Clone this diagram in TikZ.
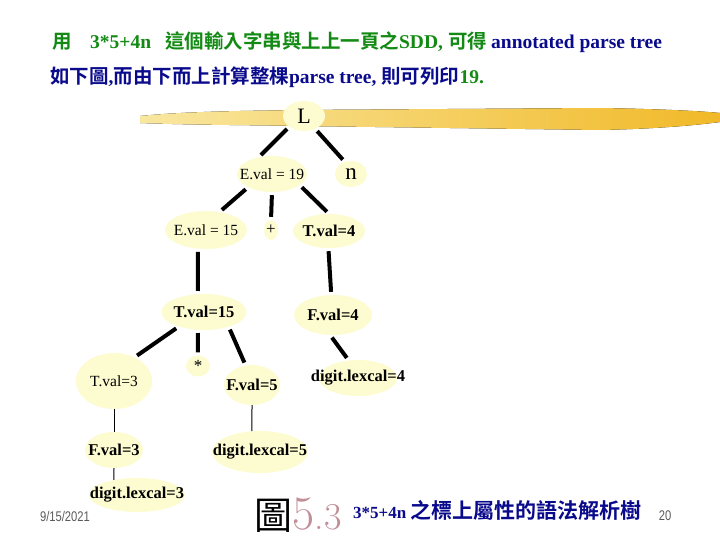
\documentclass[tikz,border=0pt]{standalone}
\usepackage{fontspec}
\setmainfont{Liberation Serif}
\newfontfamily\cjkfont{Noto Sans CJK TC}[BoldFont={Noto Sans CJK TC Bold}]
\newfontfamily\narrowfont{Liberation Sans}[FakeStretch=0.8]
\newfontfamily\figfont{Latin Modern Roman}
\usetikzlibrary{shapes.geometric,calc}

\definecolor{hdgreen}{HTML}{138A13}
\definecolor{hdnavy}{HTML}{0A0A8C}
\definecolor{ovalfill}{HTML}{FDFBD0}
\definecolor{brushA}{HTML}{F9E7A0}
\definecolor{brushB}{HTML}{F1B928}
\definecolor{footgray}{HTML}{5A5A5A}
\definecolor{figpink}{HTML}{C08E98}

\newcommand{\zh}[1]{{\cjkfont #1}}

\begin{document}
\begin{tikzpicture}[x=1pt,y=-1pt,
	oval/.style={ellipse, fill=ovalfill, inner xsep=-40pt, inner ysep=-14pt},
	valr/.style={oval, font=\fontsize{15.5}{16}\selectfont},
	valb/.style={oval, font=\bfseries\fontsize{16.5}{17}\selectfont},
	thk/.style={line width=4pt, shorten <=3pt, shorten >=3pt},
	thn/.style={line width=1pt},
	txt/.style={inner sep=0pt, anchor=base west}]
	\useasboundingbox (0,0) rectangle (720,540);
	% header
	\node[txt, text=hdgreen, font=\bfseries\fontsize{19.5}{19.5}\selectfont] (hdA) at (52,49) {\zh{用}};
	\node[txt, text=hdgreen, font=\bfseries\fontsize{19.5}{19.5}\selectfont] (hdB) at (90,49) {3*5+4n\hspace{14pt}\zh{這個輸入字串與上上一頁之}SDD,\hspace{5pt}\zh{可得}};
	\node[txt, text=hdnavy, font=\bfseries\fontsize{19.5}{19.5}\selectfont] (hdC) at (491,49) {annotated parse tree};
	\node[txt, text=hdnavy, font=\bfseries\fontsize{19.5}{19.5}\selectfont] (hdD) at (50,84) {\zh{如下圖},\zh{而由下而上計算整棵}parse tree, \zh{則可列印}};
	\node[txt, text=hdgreen, font=\bfseries\fontsize{19.5}{19.5}\selectfont] (hdE) at (hdD.base east) {19.};
	% brush stroke
	\fill[left color=brushA, right color=brushB] (140,116) .. controls (190,111) and (250,111) .. (295,110) -- (600,108) .. controls (660,109) and (700,111) .. (720,113) -- (720,122) .. controls (690,126) and (650,129) .. (600,130) -- (300,126) .. controls (250,125) and (190,125) .. (140,123) -- cycle;
	% tree
	\node[valr, font=\fontsize{22}{22}\selectfont, minimum width=42pt, minimum height=30pt] (L) at (304,116) {L};
	\node[valr, minimum width=70pt, minimum height=36pt] (E19) at (272,174) {E.val = 19};
	\node[valr, font=\fontsize{23}{23}\selectfont, minimum width=32pt, minimum height=26pt] (n) at (351,174) {n};
	\node[valr, minimum width=82pt, minimum height=38pt] (E15) at (206,230) {E.val = 15};
	\node[valr, font=\fontsize{17}{17}\selectfont, minimum width=14pt, minimum height=20pt] (plus) at (271,230) {+};
	\node[valb, minimum width=72pt, minimum height=34pt] (T4) at (329,231) {T.val=4};
	\node[valb, minimum width=85pt, minimum height=36pt] (T15) at (204,312) {T.val=15};
	\node[valb, minimum width=78pt, minimum height=40pt] (F4) at (333,315) {F.val=4};
	\node[valr, minimum width=76pt, minimum height=56pt] (T3) at (114,381) {T.val=3};
	\node[valr, font=\fontsize{17}{17}\selectfont, minimum width=24pt, minimum height=21pt] (star) at (198,366) {*};
	\node[valb, minimum width=56pt, minimum height=40pt] (F5) at (252,385) {F.val=5};
	\node[valb, minimum width=78pt, minimum height=36pt] (d4) at (358,378) {digit.lexcal=4};
	\node[valb, minimum width=58pt, minimum height=36pt] (F3) at (114,450) {F.val=3};
	\node[valb, minimum width=96pt, minimum height=42pt] (d5) at (260,452) {digit.lexcal=5};
	\node[valb, minimum width=96pt, minimum height=34pt] (d3) at (137,495) {digit.lexcal=3};
	\draw[thk] (L.216) -- (E19.128);
	\draw[thk] (L.311) -- (n.117);
	\draw[thk] (E19.209) -- (E15.53);
	\draw[thk] (E19.south) -- (plus.north);
	\draw[thk] (E19.338) -- (T4.north);
	\draw[thk] (E15.247) -- (T15.109);
	\draw[thk] (T4.268) -- (F4.95);
	\draw[thk] (T15.210) -- (T3.49);
	\draw[thk] (T15.251) -- (star.north);
	\draw[thk] (T15.329) -- (F5.108);
	\draw[thk] (F4.262) -- (d4.118);
	\draw[thn] (T3.south) -- (F3.north);
	\draw[thn] (F5.south) -- (d5.111);
	\draw[thn] (F3.south) -- (d3.147);
	% footer
	\node[font=\narrowfont\fontsize{14}{14}\selectfont, text=footgray] (date) at (65,516) {9/15/2021};
	\node[font=\narrowfont\fontsize{14}{14}\selectfont, text=footgray] (page) at (665,516) {20};
	\node[txt, font=\cjkfont\fontsize{38}{38}\selectfont] (fig) at (254,529) {圖};
	\node[txt, text=figpink, font=\figfont\fontsize{48}{48}\selectfont] (fignum) at (fig.base east) {5{\fontsize{38}{38}\selectfont.3}};
	\node[txt, text=hdnavy, font=\bfseries\fontsize{17}{17}\selectfont] (cap) at (353,518) {3*5+4n {\fontsize{21}{21}\selectfont\zh{之標上屬性的語法解析樹}}};
\end{tikzpicture}
\end{document}
